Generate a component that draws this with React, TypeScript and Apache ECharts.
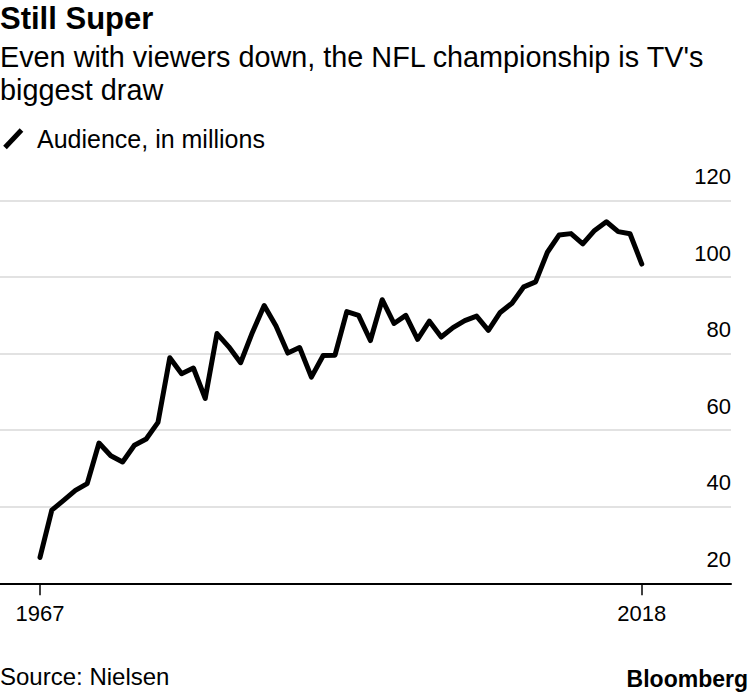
import React, { useEffect, useRef } from 'react';
import * as echarts from 'echarts';

const years = [
  1967, 1968, 1969, 1970, 1971, 1972, 1973, 1974, 1975, 1976, 1977, 1978, 1979,
  1980, 1981, 1982, 1983, 1984, 1985, 1986, 1987, 1988, 1989, 1990, 1991, 1992,
  1993, 1994, 1995, 1996, 1997, 1998, 1999, 2000, 2001, 2002, 2003, 2004, 2005,
  2006, 2007, 2008, 2009, 2010, 2011, 2012, 2013, 2014, 2015, 2016, 2017, 2018,
];
const audience = [
  26.75, 39.12, 41.66, 44.27, 46.04, 56.64, 53.32, 51.7, 56.05, 57.71, 62.05, 78.94, 74.74,
  76.24, 68.29, 85.24, 81.77, 77.62, 85.53, 92.57, 87.19, 80.14, 81.59, 73.85, 79.51, 79.59,
  90.99, 90.0, 83.42, 94.08, 87.87, 90.0, 83.72, 88.47, 84.34, 86.8, 88.64, 89.8, 86.07,
  90.75, 93.18, 97.45, 98.73, 106.48, 111.01, 111.35, 108.69, 112.19, 114.44, 111.86, 111.32, 103.4,
];
const xTickYears = [1967, 2018];
const yTicks = [20, 40, 60, 80, 100, 120];

const titleText = 'Still Super';
const subtitleLines = ["Even with viewers down, the NFL championship is TV's", 'biggest draw'];
const legendText = 'Audience, in millions';
const sourceText = 'Source: Nielsen';
const brandText = 'Bloomberg';

const FONT = '"Liberation Sans", Arial, Helvetica, sans-serif';

export default function App() {
  const ref = useRef<HTMLDivElement>(null);
  useEffect(() => {
    if (!ref.current) return;
    const chart = echarts.init(ref.current, null, { renderer: 'svg' });
    const option: any = {
      animation: false,
      backgroundColor: '#ffffff',
      textStyle: { fontFamily: FONT },
      grid: { left: 0, right: 19, top: 200.5, bottom: 110.7 },
      xAxis: {
        type: 'value',
        min: 1963.61,
        max: 2025.56,
        splitLine: { show: false },
        axisLine: { show: true, lineStyle: { color: '#000', width: 2 } },
        axisTick: {
          show: true,
          length: 12,
          customValues: xTickYears,
          lineStyle: { color: '#000', width: 1.5 },
        },
        axisLabel: {
          customValues: xTickYears,
          formatter: (v: number) => String(v),
          color: '#000',
          fontSize: 22,
          fontFamily: FONT,
          margin: 19,
        },
      },
      yAxis: {
        type: 'value',
        position: 'right',
        min: yTicks[0],
        max: yTicks[yTicks.length - 1],
        interval: 20,
        axisLine: { show: false },
        axisTick: { show: false },
        splitLine: { show: true, lineStyle: { color: '#d9d9d9', width: 1.5 } },
        axisLabel: {
          inside: true,
          margin: 0,
          color: '#000',
          fontSize: 22,
          fontFamily: FONT,
          verticalAlign: 'bottom',
          padding: [0, 0, 13, 0],
        },
      },
      series: [
        {
          type: 'line',
          data: years.map((y, i) => [y, audience[i]]),
          showSymbol: false,
          silent: true,
          lineStyle: { color: '#000', width: 5, cap: 'round', join: 'round' },
        },
      ],
      graphic: [
        {
          type: 'text',
          x: 0,
          y: 18.8,
          style: {
            text: titleText,
            fill: '#000',
            font: `bold 31px ${FONT}`,
            align: 'left',
            verticalAlign: 'middle',
          },
        },
        {
          type: 'text',
          x: 0,
          y: 56.5,
          style: {
            text: subtitleLines[0],
            fill: '#000',
            font: `28.8px ${FONT}`,
            align: 'left',
            verticalAlign: 'middle',
          },
        },
        {
          type: 'text',
          x: 0,
          y: 89.5,
          style: {
            text: subtitleLines[1],
            fill: '#000',
            font: `28.8px ${FONT}`,
            align: 'left',
            verticalAlign: 'middle',
          },
        },
        {
          type: 'line',
          shape: { x1: 5, y1: 147.5, x2: 21.5, y2: 130 },
          style: { stroke: '#000', lineWidth: 5 },
        },
        {
          type: 'text',
          x: 37,
          y: 139,
          style: {
            text: legendText,
            fill: '#000',
            font: `25px ${FONT}`,
            align: 'left',
            verticalAlign: 'middle',
          },
        },
        {
          type: 'text',
          x: 0,
          y: 676.5,
          style: {
            text: sourceText,
            fill: '#000',
            font: `24px ${FONT}`,
            align: 'left',
            verticalAlign: 'middle',
          },
        },
        {
          type: 'text',
          x: 748,
          y: 679,
          style: {
            text: brandText,
            fill: '#000',
            font: `bold 23px ${FONT}`,
            align: 'right',
            verticalAlign: 'middle',
          },
        },
      ],
    };
    chart.setOption(option);
    return () => chart.dispose();
  }, []);
  return (
    <div
      ref={ref}
      style={{ position: 'absolute', left: 0, top: 0, width: 750, height: 694 }}
    />
  );
}
